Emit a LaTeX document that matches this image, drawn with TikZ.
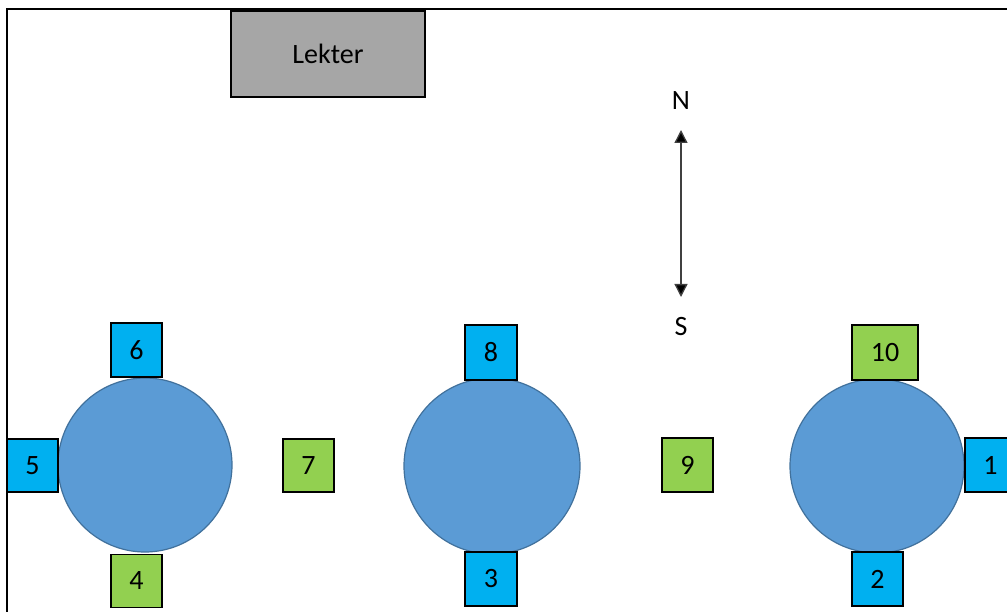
\documentclass[tikz,border=0pt]{standalone}
\usepackage{fontspec}
\setmainfont{Carlito}
\usetikzlibrary{arrows.meta}
\definecolor{seatblue}{HTML}{00B0F0}
\definecolor{seatgreen}{HTML}{92D050}
\definecolor{tablefill}{HTML}{5B9BD5}
\definecolor{tableedge}{HTML}{41719C}
\definecolor{deskgray}{HTML}{A6A6A6}
\begin{document}
\begin{tikzpicture}[x=1pt,y=-1pt,
  every node/.style={font=\fontsize{28}{31}\selectfont},
  roundtable/.style={circle,fill=tablefill,draw=tableedge,line width=1.2pt,minimum size=#1,inner sep=0pt},
  seat/.style={draw=black,line width=1.6pt,minimum width=51pt,minimum height=53pt,inner sep=0pt},
  blueseat/.style={seat,fill=seatblue},
  greenseat/.style={seat,fill=seatgreen},
  desk/.style={draw=black,line width=1.6pt,fill=deskgray,minimum width=194pt,minimum height=86pt,inner sep=0pt},
  compass/.style={line width=1.3pt,draw=black!75,{Triangle[width=13pt,length=13pt,fill=black]}-{Triangle[width=13pt,length=13pt,fill=black]}}
]
\useasboundingbox (0,0) rectangle (1007,612);
\clip (0,0) rectangle (1007,612);

% room walls
\draw[line width=2pt] (7,625) -- (7,9) -- (1020,9);

% lectern
\node[desk] (lekter) at (328,54) {Lekter};

% compass
\node (north) at (681,101) {N};
\node (south) at (681,327) {S};
\draw[compass,shorten <=29pt,shorten >=30pt] (north.center) -- (south.center);

% tables
\node[roundtable=174pt] (tableA) at (145,465) {};
\node[roundtable=176pt] (tableB) at (492,466) {};
\node[roundtable=174pt] (tableC) at (877,466) {};

% seats around table A
\node[blueseat,minimum height=54pt] (s6) at (136.5,350) {6};
\node[blueseat] (s5) at (32.5,465.5) {5};
\node[greenseat] (s4) at (136.5,581) {4};
\node[greenseat] (s7) at (308.5,465.5) {7};

% seats around table B
\node[blueseat,minimum width=52pt,minimum height=55pt] (s8) at (491,352.5) {8};
\node[blueseat,minimum width=52pt,minimum height=54pt] (s3) at (491,579) {3};
\node[greenseat,minimum height=54pt] (s9) at (687.5,465) {9};

% seats around table C
\node[greenseat,minimum width=66pt,minimum height=55pt] (s10) at (885,352.5) {10};
\node[blueseat,minimum height=54pt] (s1) at (990.5,465) {1};
\node[blueseat,minimum height=54pt] (s2) at (877.5,579) {2};
\end{tikzpicture}
\end{document}
